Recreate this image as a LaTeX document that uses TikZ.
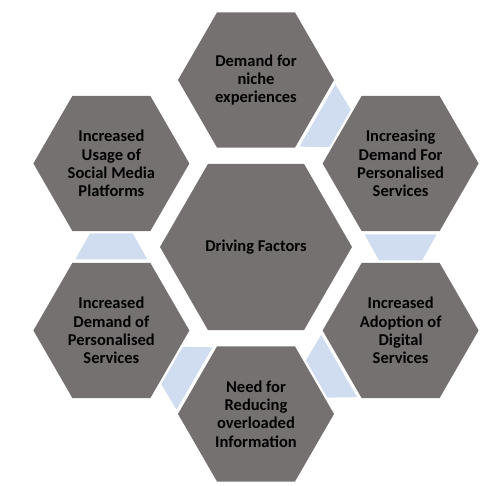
\documentclass[tikz,border=0pt]{standalone}
\usepackage{fontspec}
\setmainfont{Carlito}
\usetikzlibrary{shapes.geometric,calc}
\definecolor{hexgray}{HTML}{767171}
\definecolor{linkblue}{HTML}{D0DCEF}
\tikzset{
  hexo/.style={regular polygon, regular polygon sides=6, fill=hexgray, draw=none,
    minimum size=156pt, inner sep=0pt, outer sep=0pt, align=center,
    font=\fontsize{16.5pt}{18.3pt}\selectfont\bfseries, text=black},
  hexc/.style={hexo, minimum size=192pt},
  link/.style={fill=linkblue, draw=none}
}
\newcommand\linkshape[2]{%
  \fill[link] ($(#1)!71pt!(#2)!36pt!90:(#2)$) -- ($(#1)!97pt!(#2)!21.5pt!90:(#2)$)
    -- ($(#1)!97pt!(#2)!21.5pt!-90:(#2)$) -- ($(#1)!71pt!(#2)!36pt!-90:(#2)$) -- cycle;}
\begin{document}
\begin{tikzpicture}[x=1pt,y=1pt]
\useasboundingbox (0,0) rectangle (501,486);
\coordinate (c) at (256,239);
\node[hexc] (center) at (c) {Driving Factors};
\node[hexo] (top) at ($(c)+(90:167pt)$) {Demand for\\niche\\experiences};
\node[hexo] (tr) at ($(c)+(30:167pt)$) {Increasing\\Demand For\\Personalised\\Services};
\node[hexo] (br) at ($(c)+(-30:167pt)$) {Increased\\Adoption of\\Digital\\Services};
\node[hexo] (bot) at ($(c)+(-90:167pt)$) {Need for\\Reducing\\overloaded\\Information};
\node[hexo] (bl) at ($(c)+(-150:167pt)$) {Increased\\Demand of\\Personalised\\Services};
\node[hexo] (tl) at ($(c)+(150:167pt)$) {Increased\\Usage of\\Social Media\\Platforms};
\linkshape{top.center}{tr.center}
\linkshape{tr.center}{br.center}
\linkshape{br.center}{bot.center}
\linkshape{bot.center}{bl.center}
\linkshape{bl.center}{tl.center}
\end{tikzpicture}
\end{document}
